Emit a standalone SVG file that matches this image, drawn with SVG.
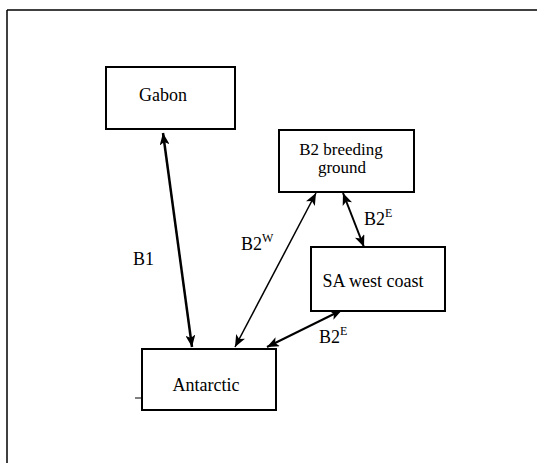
<svg xmlns="http://www.w3.org/2000/svg" width="537" height="463" viewBox="0 0 537 463">
<defs>
<style>
text{font-family:'Liberation Serif','DejaVu Serif',serif;fill:#000}
.lbl{font-size:18px}
.sm{font-size:17px}
.sup{font-size:12px}
.box{fill:#fff;stroke:#000;stroke-width:2}
.con{stroke:#000;fill:none}
</style>
<marker id="ah" viewBox="0 0 12 10" refX="12" refY="5" markerWidth="12" markerHeight="10" markerUnits="userSpaceOnUse" orient="auto-start-reverse">
<path d="M0,0 L12,5 L0,10 L3,5 z" fill="#000"/>
</marker>
</defs>
<rect width="537" height="463" fill="#fff"/>
<g id="frame">
<line x1="7" y1="10" x2="537" y2="10" stroke="#000" stroke-width="1.5"/>
<line x1="7" y1="10" x2="7" y2="463" stroke="#000" stroke-width="1.5"/>
</g>
<g id="connectors">
<line class="con" x1="163" y1="133" x2="192" y2="347" stroke-width="2.5" marker-start="url(#ah)" marker-end="url(#ah)"/>
<line class="con" x1="235" y1="347" x2="316" y2="193" stroke-width="1.5" marker-start="url(#ah)" marker-end="url(#ah)"/>
<line class="con" x1="343" y1="193" x2="364" y2="247" stroke-width="2" marker-start="url(#ah)" marker-end="url(#ah)"/>
<line class="con" x1="267" y1="347" x2="342" y2="310" stroke-width="2" marker-start="url(#ah)" marker-end="url(#ah)"/>
<text class="lbl" x="133" y="265" font-family="Liberation Serif, serif">B1</text>
<text class="lbl" x="241" y="250" font-family="Liberation Serif, serif">B2<tspan class="sup" dy="-8">W</tspan></text>
<text class="lbl" x="364" y="225" font-family="Liberation Serif, serif">B2<tspan class="sup" dy="-8">E</tspan></text>
<text class="lbl" x="319" y="343" font-family="Liberation Serif, serif">B2<tspan class="sup" dy="-8">E</tspan></text>
</g>
<g id="gabon">
<rect class="box" x="106" y="67" width="129" height="62" stroke-width="2.5"/>
<text class="lbl" x="163" y="101" text-anchor="middle" font-family="Liberation Serif, serif">Gabon</text>
</g>
<g id="b2breeding">
<rect class="box" x="279" y="130" width="135" height="62"/>
<text class="sm" x="341" y="155" text-anchor="middle" font-family="Liberation Serif, serif">B2 breeding</text>
<text class="sm" x="342" y="173" text-anchor="middle" font-family="Liberation Serif, serif">ground</text>
</g>
<g id="sawestcoast">
<rect class="box" x="311" y="247" width="134" height="64"/>
<text class="lbl" x="373" y="287" text-anchor="middle" font-family="Liberation Serif, serif">SA west coast</text>
</g>
<g id="antarctic">
<rect class="box" x="142" y="349" width="134" height="61"/>
<line x1="135" y1="398" x2="142" y2="398" stroke="#000" stroke-width="1"/>
<text class="lbl" x="206" y="391" text-anchor="middle" font-family="Liberation Serif, serif">Antarctic</text>
</g>
</svg>
